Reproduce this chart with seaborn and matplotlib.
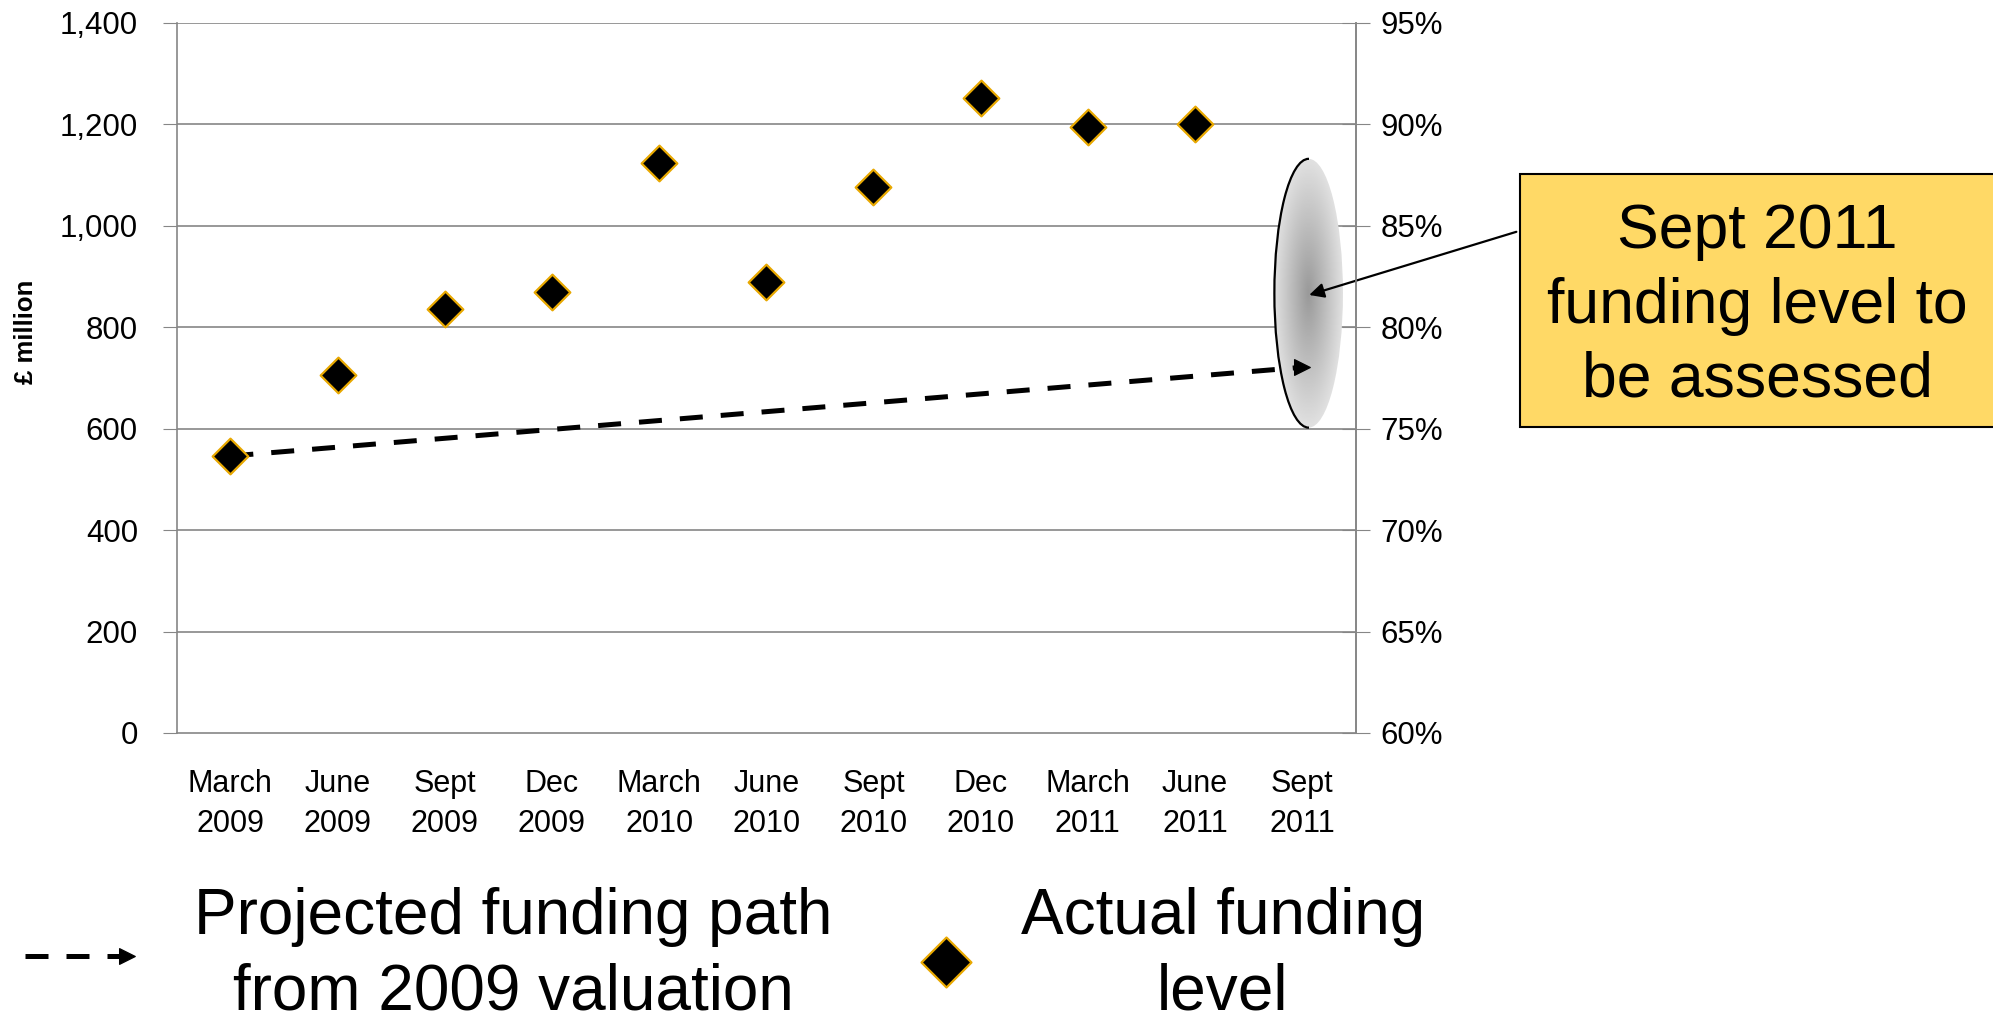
import numpy as np
import pandas as pd
import matplotlib
matplotlib.use('Agg')
import matplotlib.pyplot as plt
from matplotlib.patches import Ellipse, Rectangle
from matplotlib.legend_handler import HandlerLine2D
import seaborn as sns

# quarters on the x axis
quarters = ['March\n2009', 'June\n2009', 'Sept\n2009', 'Dec\n2009', 'March\n2010',
            'June\n2010', 'Sept\n2010', 'Dec\n2010', 'March\n2011', 'June\n2011', 'Sept\n2011']

# actual funding level (read on the £ million axis)
actual_quarters = quarters[:10]
actual_values = [546, 706, 836, 869, 1124, 889, 1077, 1252, 1195, 1200]

# projected funding path from 2009 valuation (start and end)
proj_quarters = ['March\n2009', 'Sept\n2011']
proj_values = [546, 721]

# funding level still to be assessed (centre / spread on the £ million axis)
assess_quarter = 'Sept\n2011'
assess_mid = 867
assess_span = 530

left_ticks = [0, 200, 400, 600, 800, 1000, 1200, 1400]
right_ticks = [60, 65, 70, 75, 80, 85, 90, 95]

actual_df = pd.DataFrame({'pos': [quarters.index(q) for q in actual_quarters], 'value': actual_values})
proj_df = pd.DataFrame({'pos': [quarters.index(q) for q in proj_quarters], 'value': proj_values})


class HandlerArrowLine(HandlerLine2D):
    # dashed legend line with the arrow head only at the right end
    def create_artists(self, *args, **kwargs):
        arts = super().create_artists(*args, **kwargs)
        for a in arts:
            n = len(a.get_xdata())
            a.set_markevery([n - 1])
        return arts


sns.set_style('white')
plt.rcParams['font.family'] = ['Liberation Sans', 'DejaVu Sans']
plt.rcParams['text.color'] = 'black'
plt.rcParams['axes.labelcolor'] = 'black'
plt.rcParams['xtick.color'] = 'black'
plt.rcParams['ytick.color'] = 'black'

fig = plt.figure(figsize=(19.93, 10.18), dpi=100)
ax = fig.add_axes([0.0887, 0.280, 0.5916, 0.6975])

grid_col = '#868686'
for t in left_ticks[1:]:
    ax.axhline(t, color=grid_col, lw=1.2, zorder=0)

# shaded ellipse for the Sept 2011 assessment
cx = quarters.index(assess_quarter) + 0.06
ew, eh = 0.64, assess_span
ell = Ellipse((cx, assess_mid), ew, eh, facecolor='none', edgecolor='none')
ax.add_patch(ell)
gy, gx = np.mgrid[-1:1:200j, -1:1:200j]
r = np.sqrt(gx ** 2 + gy ** 2)
img = ax.imshow(0.6 + 0.28 * np.clip(r, 0, 1), cmap='gray', vmin=0, vmax=1,
                extent=[cx - ew / 2, cx + ew / 2, assess_mid - eh / 2, assess_mid + eh / 2],
                aspect='auto', zorder=1, interpolation='bilinear')
img.set_clip_path(ell)
# dark outline on the left side only
outline = Ellipse((cx, assess_mid), ew, eh, facecolor='none', edgecolor='black', lw=1.6, zorder=2)
ax.add_patch(outline)
clip_box = Rectangle((cx - ew, assess_mid - eh), ew * 1.0, eh * 2, transform=ax.transData)
outline.set_clip_path(clip_box)

sns.lineplot(data=proj_df, x='pos', y='value', ax=ax, color='black', lw=3.6,
             linestyle=(0, (4.6, 3.6)), marker='>', markevery=[1], markersize=11,
             markeredgecolor='black', label='Projected funding path\nfrom 2009 valuation',
             legend=False, zorder=3)
sns.scatterplot(data=actual_df, x='pos', y='value', ax=ax, marker='D', s=330,
                color='black', edgecolor='#E8A800', linewidth=1.6,
                label='Actual funding\nlevel', legend=False, zorder=4)

ax.set_xlim(-0.5, len(quarters) - 0.5)
ax.set_ylim(0, 1400)
ax.set_yticks(left_ticks)
ax.set_yticklabels([f'{t:,}' for t in left_ticks], fontsize=22.5)
ax.set_xticks(range(len(quarters)))
ax.set_xticklabels(quarters, fontsize=22, linespacing=1.45)
ax.set_xticks(np.arange(-0.5, len(quarters)), minor=True)
ax.tick_params(axis='x', which='major', length=0, pad=26)
ax.tick_params(axis='x', which='minor', length=10, color=grid_col, direction='out')
ax.tick_params(axis='y', length=10, color=grid_col, pad=18, direction='out', left=True)
ax.set_xlabel('')
ax.set_ylabel('£ million', fontsize=18.5, fontweight='bold')
ax.yaxis.set_label_coords(-0.118, 0.565)
ax.spines['top'].set_visible(False)
for side in ['left', 'right', 'bottom']:
    ax.spines[side].set_color(grid_col)
    ax.spines[side].set_linewidth(1.2)

ax2 = ax.twinx()
ax2.set_ylim(60, 95)
ax2.set_yticks(right_ticks)
ax2.set_yticklabels([f'{t}%' for t in right_ticks], fontsize=22.5)
ax2.tick_params(axis='y', direction='inout', length=20, color=grid_col, pad=8, right=True)
for side in ['top', 'left', 'bottom']:
    ax2.spines[side].set_visible(False)
ax2.spines['right'].set_color(grid_col)
ax2.spines['right'].set_linewidth(1.2)
ax2.grid(False)

# call-out box
fig.add_artist(Rectangle((1520 / 1993, 1 - 427 / 1018), 0.245, 253 / 1018,
                         transform=fig.transFigure, facecolor='#FFD966',
                         edgecolor='black', lw=1.5))
fig.text(1757 / 1993, 1 - 306 / 1018, 'Sept 2011\nfunding level to\nbe assessed',
         fontsize=45, ha='center', va='center', linespacing=1.33)
ax.annotate('', xy=(cx - 0.02, 862), xycoords='data',
            xytext=(1519 / 1993, 1 - 231 / 1018), textcoords='figure fraction',
            arrowprops=dict(arrowstyle='-|>', color='black', lw=1.6, mutation_scale=22),
            zorder=5)

# legend, one entry per block
handles, labels = ax.get_legend_handles_labels()
leg1 = fig.legend([handles[0]], [labels[0]], loc='center left', bbox_to_anchor=(6 / 1993, 1 - 955 / 1018),
                  frameon=False, fontsize=46, handlelength=2.2, handletextpad=0.74,
                  borderpad=0, borderaxespad=0, numpoints=2,
                  handler_map={handles[0]: HandlerArrowLine()})
leg2 = fig.legend([handles[1]], [labels[1]], loc='center left', bbox_to_anchor=(914 / 1993, 1 - 955 / 1018),
                  frameon=False, fontsize=46, handlelength=1.0, handletextpad=0.67,
                  borderpad=0, borderaxespad=0, scatterpoints=1, markerscale=1.4)
for lg in (leg1, leg2):
    for t in lg.get_texts():
        t.set_multialignment('center')
        t.set_linespacing(1.32)

fig.savefig('out.png', dpi=100)
